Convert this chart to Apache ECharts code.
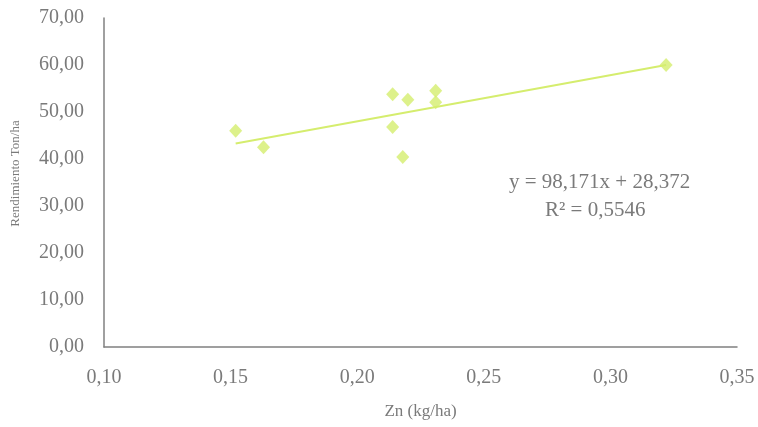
<!DOCTYPE html>
<html>
<head>
<meta charset="utf-8">
<script src="https://cdn.jsdelivr.net/npm/echarts@6/dist/echarts.min.js"></script>
<style>
  html, body { margin: 0; padding: 0; background: #fff; }
  #chart { width: 758px; height: 427px; }
</style>
</head>
<body>
<div id="chart"></div>
<script>
// Zn (kg/ha) vs rendimiento
var znValues = [0.152, 0.163, 0.214, 0.220, 0.214, 0.218, 0.231, 0.231, 0.322];
var yieldValues = [46.0, 42.5, 53.8, 52.6, 46.8, 40.4, 54.5, 52.1, 60.0];
// linea de tendencia: y = slope * x + intercept
var trendCoef = [98.171, 28.372];
var r2 = 0.5546;

function comma(v, d) {
  return v.toFixed(d).replace('.', ',');
}

var points = znValues.map(function (x, i) { return [x, yieldValues[i]]; });
var xMin = Math.min.apply(null, znValues);
var xMax = Math.max.apply(null, znValues);
var trendData = [
  [xMin, trendCoef[0] * xMin + trendCoef[1]],
  [xMax, trendCoef[0] * xMax + trendCoef[1]]
];

var font = 'Liberation Serif';
var textColor = '#7a7a7a';
var pointColor = '#d5ed6e';

var chart = echarts.init(document.getElementById('chart'));
chart.setOption({
  animation: false,
  grid: { left: 104, right: 21, top: 18, bottom: 80, outerBoundsMode: 'none' },
  xAxis: {
    type: 'value',
    min: 0.10,
    max: 0.35,
    interval: 0.05,
    name: 'Zn (kg/ha)',
    nameLocation: 'middle',
    nameGap: 56,
    nameTextStyle: { color: textColor, fontFamily: font, fontSize: 17 },
    axisLine: { lineStyle: { color: '#808080', width: 1.5 } },
    axisTick: { show: false },
    splitLine: { show: false },
    axisLabel: {
      color: textColor, fontFamily: font, fontSize: 20, margin: 21,
      formatter: function (v) { return comma(v, 2); }
    }
  },
  yAxis: {
    type: 'value',
    min: 0,
    max: 70,
    interval: 10,
    name: 'Rendimiento Ton/ha',
    nameLocation: 'middle',
    nameGap: 82,
    nameTextStyle: { color: textColor, fontFamily: font, fontSize: 13, padding: [0, 0, 0, 18] },
    axisLine: { show: true, lineStyle: { color: '#808080', width: 1.5 } },
    axisTick: { show: false },
    splitLine: { show: false },
    axisLabel: {
      color: textColor, fontFamily: font, fontSize: 20, margin: 20,
      formatter: function (v) { return comma(v, 2); }
    }
  },
  series: [
    {
      type: 'line',
      data: trendData,
      symbol: 'none',
      lineStyle: { color: pointColor, width: 2 },
      z: 1
    },
    {
      type: 'scatter',
      data: points,
      symbol: 'diamond',
      symbolSize: [13, 14],
      itemStyle: { color: pointColor },
      z: 2
    }
  ],
  graphic: [
    {
      type: 'text',
      left: 509,
      top: 172,
      style: {
        text: 'y = ' + comma(trendCoef[0], 3) + 'x + ' + comma(trendCoef[1], 3),
        fill: textColor, font: '21px "' + font + '"'
      }
    },
    {
      type: 'text',
      left: 545,
      top: 200,
      style: {
        text: 'R² = ' + comma(r2, 4),
        fill: textColor, font: '21px "' + font + '"'
      }
    }
  ]
});
</script>
</body>
</html>
